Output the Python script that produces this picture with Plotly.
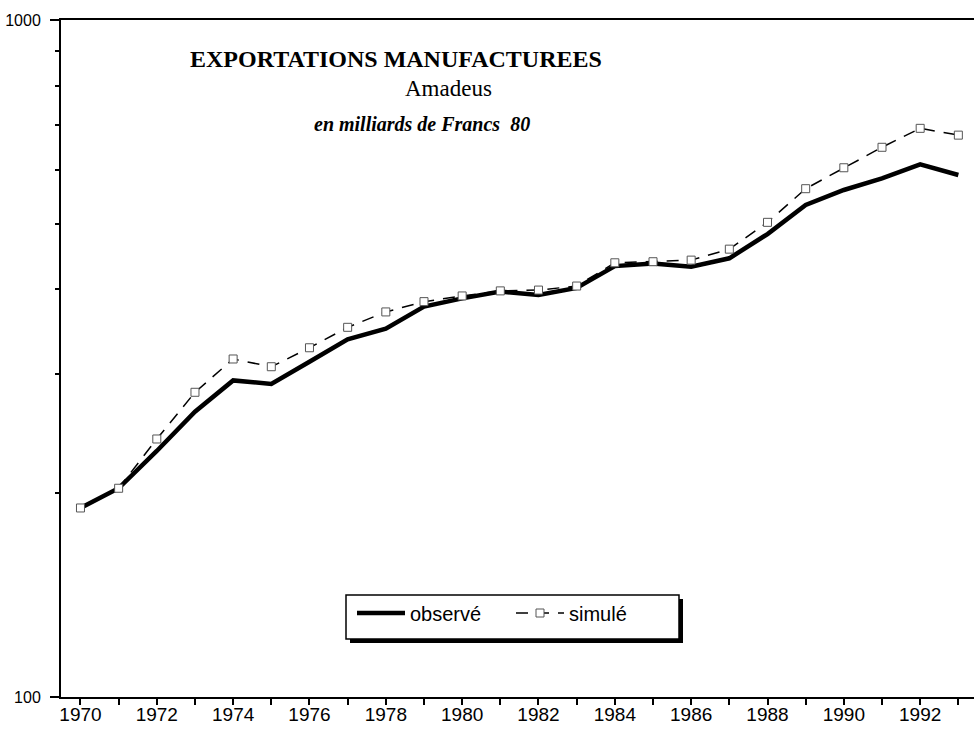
import plotly.graph_objects as go

years = list(range(1970, 1994))
observe = [190.2, 203.4, 230.9, 263.9, 293.5, 290.0, 312.8, 337.5, 349.9, 377.2,
           388.0, 397.0, 392.5, 402.0, 433.0, 437.0, 432.0, 444.6, 482.9, 533.0,
           560.9, 583.6, 612.0, 590.2]
simule = [190.2, 203.4, 240.5, 281.9, 315.7, 307.5, 328.0, 351.6, 370.5, 383.7,
          391.2, 398.0, 399.1, 404.6, 437.9, 439.5, 441.9, 458.7, 502.5, 563.4,
          605.0, 648.6, 691.8, 676.0]
xtick_vals = list(range(1970, 1994))
xtick_text = [str(y) if y % 2 == 0 else "" for y in xtick_vals]
ytick_vals = [100, 1000]
ytick_text = ["100", "1000"]
yminor_vals = [200, 300, 400, 500, 600, 700, 800, 900]

title_main = "EXPORTATIONS MANUFACTUREES"
title_sub = "Amadeus"
title_unit = "en milliards de Francs  80"

fig = go.Figure()
fig.add_trace(go.Scatter(
    x=years, y=observe, name="observé", mode="lines",
    line=dict(color="black", width=4.5),
))
fig.add_trace(go.Scatter(
    x=years, y=simule, name="simulé", mode="lines+markers",
    line=dict(color="black", width=1.5, dash="12px,9px"),
    marker=dict(symbol="square", size=8, color="white",
                line=dict(color="#555555", width=1)),
))

W, H = 974, 729
L, R, T, B = 61, 974, 20, 697
pw, ph = R - L, B - T

def px(x):
    return (x - L) / pw

def py(y):
    return (B - y) / ph

serif = "Liberation Serif, Times New Roman, serif"
sans = "Liberation Sans, Arial, sans-serif"

annotations = [
    dict(text="<b>" + title_main + "</b>", x=px(188), y=py(59), xref="paper", yref="paper",
         xanchor="left", yanchor="middle", showarrow=False,
         font=dict(family=serif, size=24, color="black")),
    dict(text=title_sub, x=px(448), y=py(88), xref="paper", yref="paper",
         xanchor="center", yanchor="middle", showarrow=False,
         font=dict(family=serif, size=23, color="black")),
    dict(text="<b><i>" + title_unit + "</i></b>", x=px(312), y=py(124), xref="paper", yref="paper",
         xanchor="left", yanchor="middle", showarrow=False,
         font=dict(family=serif, size=20, color="black")),
]

shapes = [
    dict(type="rect", xref="paper", yref="paper",
         x0=px(350), x1=px(683), y0=py(643), y1=py(599),
         fillcolor="black", line=dict(width=0), layer="above"),
    dict(type="rect", xref="paper", yref="paper",
         x0=px(346), x1=px(679), y0=py(639), y1=py(595),
         fillcolor="white", line=dict(color="black", width=1.5), layer="above"),
]

fig.update_layout(
    width=W, height=H,
    margin=dict(l=L, r=W - R, t=T, b=H - B, autoexpand=False),
    paper_bgcolor="white", plot_bgcolor="white",
    showlegend=True,
    legend=dict(orientation="h", x=px(352), y=py(613), xanchor="left", yanchor="middle",
                bgcolor="rgba(0,0,0,0)", borderwidth=0,
                font=dict(family=sans, size=20, color="black"),
                entrywidth=96, itemwidth=48),
    annotations=annotations,
    shapes=shapes,
)

fig.update_xaxes(
    range=[1969.49, 1993.41],
    tickvals=xtick_vals, ticktext=xtick_text,
    ticks="outside", ticklen=6, tickwidth=1.5, tickcolor="black",
    showline=True, linecolor="black", linewidth=1.5, mirror=True,
    showgrid=False, zeroline=False,
    tickfont=dict(family=sans, size=19, color="black"),
    ticklabelstandoff=-7,
    automargin=False,
)
fig.update_yaxes(
    type="log", range=[2, 3],
    tickvals=ytick_vals, ticktext=ytick_text,
    ticks="outside", ticklen=9, tickwidth=1.5, tickcolor="black",
    minor=dict(tickvals=yminor_vals, ticks="outside", ticklen=4, tickwidth=1.5,
               tickcolor="black", showgrid=False),
    showline=True, linecolor="black", linewidth=2, mirror=False,
    showgrid=False, zeroline=False,
    tickfont=dict(family=sans, size=16, color="black"),
    ticklabelstandoff=6,
    automargin=False,
)

fig.write_html("out.html", config={"displayModeBar": False},
               post_script="document.body.style.margin='0px';")
